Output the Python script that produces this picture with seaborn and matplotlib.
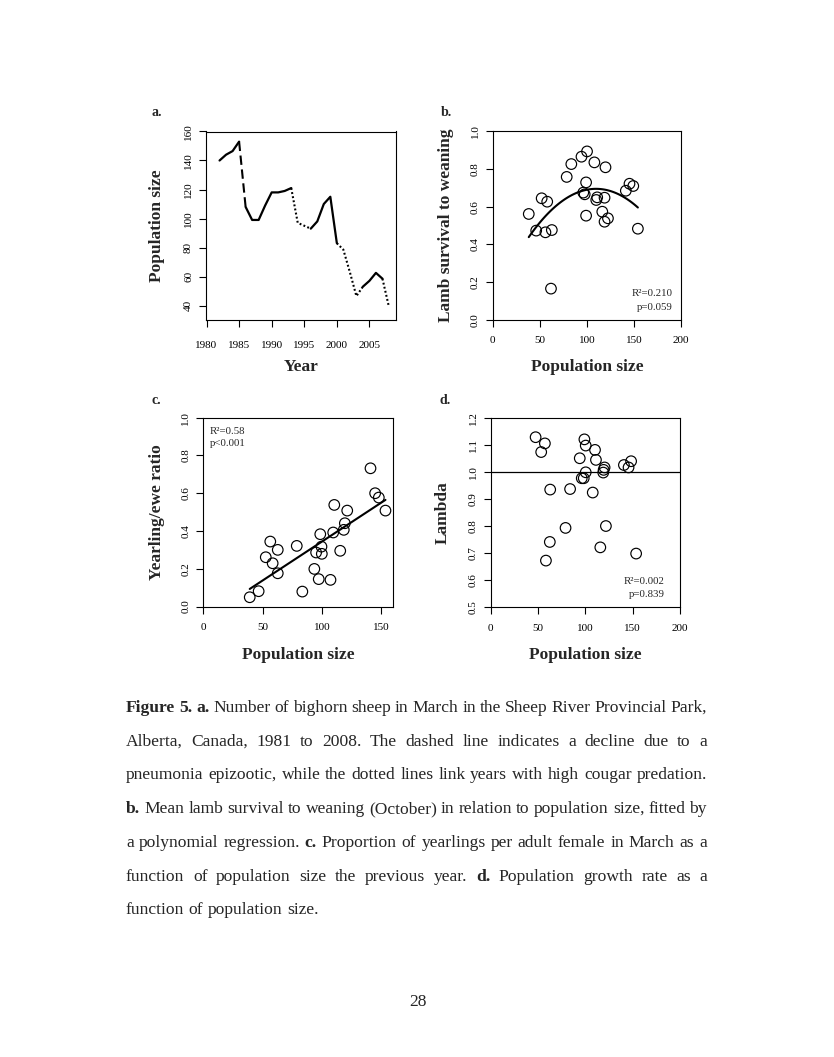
import numpy as np
import pandas as pd
import matplotlib
matplotlib.use("Agg")
import matplotlib.pyplot as plt
from matplotlib.transforms import IdentityTransform
import seaborn as sns

sns.set_style("white")
plt.rcParams['font.family'] = ['Liberation Serif', 'DejaVu Serif']

# ---------------- data ----------------
years = list(range(1982, 2009))
pop_size = [140, 144, 146.5, 153, 108, 99, 99, 109, 118, 118, 119, 121, 97, 95, 93,
            98, 110, 115, 83, 78.5, 63, 46.5, 53, 57, 62.5, 58.5, 39]
# line style of each stretch of panel a (start year, end year, style)
seg_start = [1982, 1985, 1986, 1993, 1996, 2000, 2004, 2007]
seg_end = [1985, 1986, 1993, 1996, 2000, 2004, 2007, 2008]
seg_style = ["solid", "dashed", "solid", "dotted", "solid", "dotted", "solid", "dotted"]

b_pop = [38.3, 46.2, 52.0, 57.9, 56.0, 62.8, 61.9, 78.6, 83.5, 94.3, 100.2, 99.2, 96.2, 97.7,
         99.2, 108.0, 110.0, 111.0, 119.8, 118.8, 116.4, 118.8, 122.4, 141.4, 145.3, 149.3, 154.2]
b_surv = [0.561, 0.473, 0.644, 0.626, 0.464, 0.476, 0.166, 0.757, 0.825, 0.864, 0.892, 0.728,
          0.674, 0.665, 0.552, 0.834, 0.635, 0.649, 0.808, 0.647, 0.573, 0.520, 0.538, 0.684,
          0.721, 0.709, 0.483]

c_pop = [39.1, 46.6, 52.6, 56.4, 58.4, 62.7, 62.7, 78.7, 83.4, 93.5, 95.0, 97.2, 98.5, 99.5,
         99.8, 107.1, 109.4, 110.3, 115.3, 118.3, 119.2, 121.2, 140.8, 144.7, 147.8, 153.4]
c_ratio = [0.049, 0.081, 0.261, 0.344, 0.229, 0.300, 0.176, 0.321, 0.079, 0.199, 0.286, 0.145,
           0.383, 0.317, 0.279, 0.141, 0.392, 0.538, 0.295, 0.406, 0.441, 0.508, 0.732, 0.600,
           0.577, 0.508]

d_pop = [47.6, 57.4, 53.5, 94.2, 99.1, 100.5, 110.3, 111.3, 100.5, 96.3, 98.4, 120.4, 119.4,
         119.0, 140.8, 145.7, 148.4, 63.0, 84.0, 107.9, 79.2, 121.8, 62.6, 58.5, 115.9, 153.7]
d_lambda = [1.130, 1.107, 1.075, 1.052, 1.122, 1.099, 1.083, 1.046, 1.000, 0.978, 0.978, 1.018,
            1.009, 0.999, 1.027, 1.018, 1.041, 0.936, 0.938, 0.925, 0.794, 0.801, 0.742, 0.673,
            0.722, 0.699]

a_xticks = [1980, 1985, 1990, 1995, 2000, 2005]
a_yticks = [40, 60, 80, 100, 120, 140, 160]
b_xticks = [0, 50, 100, 150, 200]
c_xticks = [0, 50, 100, 150]
unit_yticks = [0.0, 0.2, 0.4, 0.6, 0.8, 1.0]
d_yticks = [0.5, 0.6, 0.7, 0.8, 0.9, 1.0, 1.1, 1.2]

caption_lines = [
    "*Figure* *5.* *a.* Number of bighorn sheep in March in the Sheep River Provincial Park,",
    "Alberta, Canada, 1981 to 2008. The dashed line indicates a decline due to a",
    "pneumonia epizootic, while the dotted lines link years with high cougar predation.",
    "*b.* Mean lamb survival to weaning (October) in relation to population size, fitted by",
    "a polynomial regression. *c.* Proportion of yearlings per adult female in March as a",
    "function of population size the previous year. *d.* Population growth rate as a",
    "function of population size.",
]

# ---------------- layout ----------------
W, H = 834, 1057
fig = plt.figure(figsize=(W / 100, H / 100), dpi=100)
fig.patch.set_facecolor("white")


def make_ax(l, t, r, b):
    return fig.add_axes([l / W, 1 - b / H, (r - l) / W, (b - t) / H])


def fx(x):
    return x / W


def fy(y):
    return 1 - y / H


boxes = {
    "a": (206, 131.5, 396, 320),
    "b": (492.7, 131, 681, 320),
    "c": (203.3, 417.7, 393.3, 606.5),
    "d": (490.5, 418.3, 680, 607.3),
}
axs = {k: make_ax(*v) for k, v in boxes.items()}

TICK_FS = 8.0
LAB_FS = 12.5
ANN_FS = 7.8


def style_ax(ax, key, xpad, ylab, xlab, ylab_x, xlab_y, xt, yt, yfmt):
    l, t, r, b = boxes[key]
    for s in ax.spines.values():
        s.set_visible(True)
        s.set_linewidth(0.8)
        s.set_color("black")
    ax.set_xticks(xt)
    ax.set_yticks(yt)
    ax.set_yticklabels([yfmt(v) for v in yt])
    ax.tick_params(axis="both", direction="out", length=4.8, width=0.8, colors="black",
                   labelsize=TICK_FS, bottom=True, left=True)
    ax.tick_params(axis="x", pad=xpad)
    ax.tick_params(axis="y", pad=4.5, labelrotation=90)
    for lab in ax.get_yticklabels():
        lab.set_va("center")
    ax.set_ylabel(ylab, fontsize=LAB_FS, fontweight="bold", va="center")
    ax.yaxis.set_label_coords((ylab_x - l) / (r - l), 0.5)
    ax.set_xlabel(xlab, fontsize=LAB_FS, fontweight="bold", va="center")
    ax.xaxis.set_label_coords(0.5, (b - xlab_y) / (b - t))
    ax.grid(False)


# ---- panel a ----
ax = axs["a"]
dfa = pd.DataFrame({"year": years, "n": pop_size})
for s0, s1, st in zip(seg_start, seg_end, seg_style):
    sub = dfa[(dfa.year >= s0) & (dfa.year <= s1)]
    lw = 1.6 if st == "solid" else 1.5
    ls = {"solid": "-", "dashed": (0, (4.5, 2.2)), "dotted": (0, (0.9, 1.1))}[st]
    sns.lineplot(data=sub, x="year", y="n", ax=ax, color="black", lw=lw, linestyle=ls,
                 estimator=None, sort=True)
ax.set_xlim(1979.92, 2009.08)
ax.set_ylim(30, 160)
style_ax(ax, "a", 10.5, "Population size", "Year", 156.7, 367, a_xticks, a_yticks,
         lambda v: f"{v:d}")

# ---- panel b ----
ax = axs["b"]
sns.regplot(x=b_pop, y=b_surv, order=2, ci=None, scatter=False, ax=ax, color="black",
            line_kws={"lw": 1.5})
sns.scatterplot(x=b_pop, y=b_surv, ax=ax, s=58, facecolors="none", edgecolors="black",
                linewidth=0.85, zorder=3)
ax.set_xlim(0, 200)
ax.set_ylim(0, 1)
style_ax(ax, "b", 6.8, "Lamb survival to weaning", "Population size", 446, 366.7,
         b_xticks, unit_yticks, lambda v: f"{v:.1f}")
fig.text(fx(673), fy(294), "R\u00b2=0.210", fontsize=ANN_FS, ha="right", va="center")
fig.text(fx(673), fy(307), "p=0.059", fontsize=ANN_FS, ha="right", va="center")

# ---- panel c ----
ax = axs["c"]
sns.regplot(x=c_pop, y=c_ratio, ci=None, scatter=False, ax=ax, color="black",
            line_kws={"lw": 1.5})
sns.scatterplot(x=c_pop, y=c_ratio, ax=ax, s=58, facecolors="none", edgecolors="black",
                linewidth=0.85, zorder=3)
ax.set_xlim(0, 160)
ax.set_ylim(0, 1)
style_ax(ax, "c", 6.8, "Yearling/ewe ratio", "Population size", 157, 655,
         c_xticks, unit_yticks, lambda v: f"{v:.1f}")
fig.text(fx(210), fy(431), "R\u00b2=0.58", fontsize=ANN_FS, ha="left", va="center")
fig.text(fx(210), fy(443.5), "p<0.001", fontsize=ANN_FS, ha="left", va="center")

# ---- panel d ----
ax = axs["d"]
ax.axhline(1.0, color="black", lw=0.9)
sns.scatterplot(x=d_pop, y=d_lambda, ax=ax, s=58, facecolors="none", edgecolors="black",
                linewidth=0.85, zorder=3)
ax.set_xlim(0, 200)
ax.set_ylim(0.5, 1.2)
style_ax(ax, "d", 7.4, "Lambda", "Population size", 443, 655,
         b_xticks, d_yticks, lambda v: f"{v:.1f}")
fig.text(fx(665), fy(582), "R\u00b2=0.002", fontsize=ANN_FS, ha="right", va="center")
fig.text(fx(665), fy(594.5), "p=0.839", fontsize=ANN_FS, ha="right", va="center")

# ---- panel letters ----
for letter, (x, y) in {"a.": (156.7, 113), "b.": (446, 113), "c.": (156.7, 400),
                       "d.": (445, 400)}.items():
    fig.text(fx(x), fy(y), letter, fontsize=10, fontweight="bold", ha="center", va="center")

# ---- caption (justified) ----
fig.canvas.draw()
renderer = fig.canvas.get_renderer()
CAP_FS = 12.6
left_px, right_px = 126, 707
baselines = [711.5, 745.5, 779.2, 813.0, 847.0, 880.6, 914.3]
ident = IdentityTransform()
for i, line in enumerate(caption_lines):
    words = line.split(" ")
    objs = []
    for w in words:
        bold = w.startswith("*") and w.endswith("*")
        t = fig.text(0, H - baselines[i], w.strip("*"), fontsize=CAP_FS,
                     fontweight="bold" if bold else "normal", ha="left", va="baseline",
                     transform=ident)
        objs.append(t)
    widths = [t.get_window_extent(renderer).width for t in objs]
    if i < len(caption_lines) - 1:
        gap = (right_px - left_px - sum(widths)) / (len(words) - 1)
    else:
        gap = CAP_FS * 100 / 72 * 0.25
    x = left_px
    for t, wd in zip(objs, widths):
        t.set_x(x)
        x += wd + gap

fig.text(fx(418), fy(1002), "28", fontsize=CAP_FS, ha="center", va="center")

fig.savefig("out.png", dpi=100, facecolor="white")
